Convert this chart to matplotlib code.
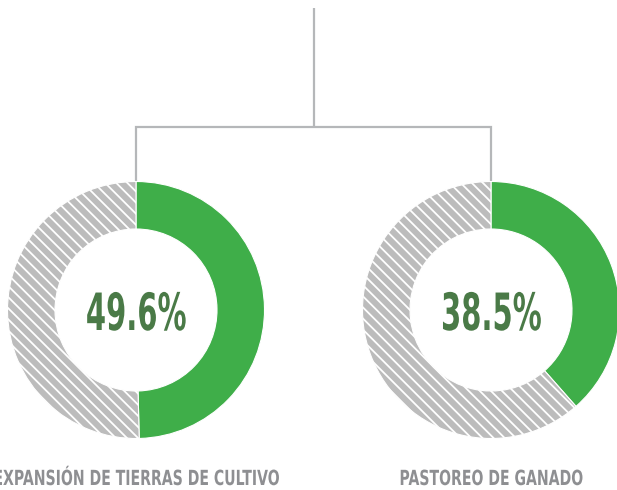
import matplotlib
matplotlib.use("Agg")
import matplotlib.pyplot as plt
from matplotlib.patheffects import AbstractPathEffect
from matplotlib.transforms import Affine2D

# Data
categories = ["EXPANSIÓN DE TIERRAS DE CULTIVO", "PASTOREO DE GANADO"]
shares = [49.6, 38.5]
value_labels = ["49.6%", "38.5%"]

W, H = 617, 490
GREEN = "#3fae49"
TEXT_GREEN = "#4a7a47"
HATCH_GRAY = "#bcbcbc"
LINE_GRAY = "#b5b7b9"
LABEL_GRAY = "#8e8f92"

plt.rcParams["hatch.linewidth"] = 1.3
FONT = ["DejaVu Sans"]


class Squeeze(AbstractPathEffect):
    """Horizontally condense glyph outlines about their own centre."""

    def __init__(self, sx):
        super().__init__()
        self.sx = sx

    def draw_path(self, renderer, gc, tpath, affine, rgbFace=None):
        ext = tpath.get_extents(affine)
        cx = 0.5 * (ext.x0 + ext.x1)
        t = Affine2D().translate(-cx, 0).scale(self.sx, 1).translate(cx, 0)
        renderer.draw_path(gc, tpath, affine + t, rgbFace)


fig = plt.figure(figsize=(W / 100, H / 100), dpi=100)
ax = fig.add_axes([0, 0, 1, 1])

centers_x = [136, 491]
center_y = H - 310
r_out = 128.5
ring = 47.5

for cx, share, lab, cat in zip(centers_x, shares, value_labels, categories):
    wedges, _ = ax.pie(
        [share, 100 - share],
        center=(cx, center_y),
        radius=r_out,
        startangle=90,
        counterclock=False,
        colors=[GREEN, HATCH_GRAY],
        wedgeprops=dict(width=ring, edgecolor="white", linewidth=0.8),
        frame=True,
    )
    wedges[1].set_hatch("\\\\\\")
    ax.text(cx, H - 330, lab, ha="center", va="baseline", fontsize=37,
            fontweight="bold", color=TEXT_GREEN, family=FONT,
            path_effects=[Squeeze(0.565)])
    ax.text(cx, H - 485, cat, ha="center", va="baseline", fontsize=15,
            fontweight="bold", color=LABEL_GRAY, family=FONT,
            path_effects=[Squeeze(0.675)])

# Connector tree
mid_x = 314
bar_y = H - 127
ax.plot([mid_x, mid_x], [H - 8, bar_y], color=LINE_GRAY, lw=1.6,
        solid_capstyle="butt")
ax.plot([centers_x[0], centers_x[0], centers_x[1], centers_x[1]],
        [H - 181, bar_y, bar_y, H - 181], color=LINE_GRAY, lw=1.6,
        solid_joinstyle="miter", solid_capstyle="butt")

ax.set_xlim(0, W)
ax.set_ylim(0, H)
ax.set_aspect("equal")
ax.axis("off")

fig.savefig("out.png", dpi=100, facecolor="white")
